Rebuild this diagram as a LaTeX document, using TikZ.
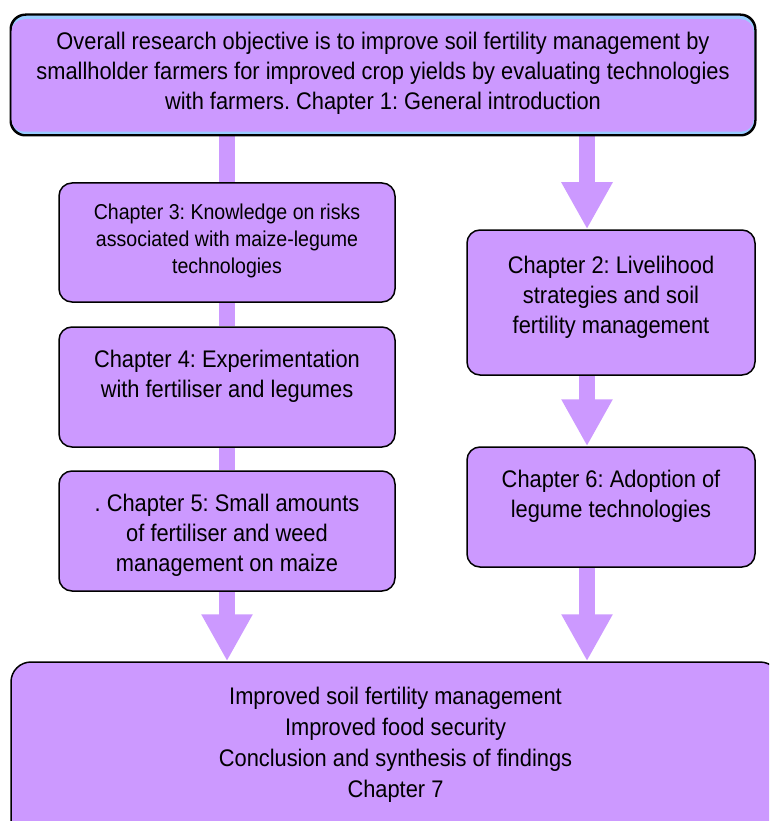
\documentclass[tikz,border=0pt]{standalone}
\usepackage{fontspec}
\setmainfont[FakeStretch=0.91]{Liberation Sans}
\usetikzlibrary{arrows.meta,backgrounds,calc}
\definecolor{boxfill}{HTML}{CC99FF}
\definecolor{edgeblue}{HTML}{99CCFF}
\tikzset{
  box/.style={draw=black, line width=1.5pt, fill=boxfill, rounded corners=13pt,
    inner sep=0pt, anchor=center},
  label/.style={align=center, inner sep=0pt, text=black},
  bar/.style={line width=16pt, draw=boxfill, line cap=butt},
  fatarrow/.style={bar, -{Triangle[length=47pt,width=48pt]}},
}
\newcommand{\mainsize}{\frenchspacing\fontsize{24}{30}\selectfont}
\newcommand{\smallsize}{\frenchspacing\fontsize{21.5}{27}\selectfont}
\newcommand{\lastsize}{\frenchspacing\fontsize{24}{31}\selectfont}
\begin{document}
\begin{tikzpicture}[x=1pt,y=-1pt]
\useasboundingbox (0,0) rectangle (769,821);
\clip (0,0) rectangle (769,821);

% boxes
\node[box, fill=edgeblue, minimum width=744pt, minimum height=120pt, rounded corners=15pt] (top) at (383,75) {};
\fill[boxfill, rounded corners=13pt] ($(top.north west)+(1,5)$) rectangle ($(top.south east)+(-2,-4)$);
\draw[black, line width=1.5pt, rounded corners=15pt] (top.north west) rectangle (top.south east);
\node[label, font=\mainsize] (ttop) at (383,73) {Overall research objective is to improve soil fertility management by\\smallholder farmers for improved crop yields by evaluating technologies\\with farmers. Chapter 1: General introduction};

\node[box, minimum width=336pt, minimum height=119pt] (b3) at (227,242.5) {};
\node[label, font=\smallsize] (t3) at (227,241) {Chapter 3: Knowledge on risks\\associated with maize-legume\\technologies};

\node[box, minimum width=336pt, minimum height=120pt] (b4) at (227,387) {};
\node[label, font=\mainsize] (t4) at (227,376) {Chapter 4: Experimentation\\with fertiliser and legumes};

\node[box, minimum width=336pt, minimum height=120pt] (b5) at (227,531) {};
\node[label, font=\mainsize] (t5) at (227,535) {. Chapter 5: Small amounts\\of fertiliser and weed\\management on maize};

\node[box, minimum width=288pt, minimum height=145pt] (b2) at (611,302.5) {};
\node[label, font=\mainsize] (t2) at (611,297) {Chapter 2: Livelihood\\strategies and soil\\fertility management};

\node[box, minimum width=288pt, minimum height=120pt] (b6) at (611,507) {};
\node[label, font=\mainsize] (t6) at (611,496) {Chapter 6: Adoption of\\legume technologies};

\node[box, minimum width=769pt, minimum height=190pt, rounded corners=20pt] (b7) at (395.5,757) {};
\node[label, font=\lastsize] (t7) at (395.5,744.5) {Improved soil fertility management\\Improved food security\\Conclusion and synthesis of findings\\Chapter 7};

% connectors behind the boxes
\coordinate (rx) at (587,0);
\begin{scope}[on background layer]
  \draw[bar] (top.south -| b3) -- (b3.north);
  \draw[bar] (b3.south) -- (b4.north);
  \draw[bar] (b4.south) -- (b5.north);
  \draw[fatarrow] (b5.south) -- (b5.south |- b7.north);
  \draw[fatarrow] (top.south -| rx) -- (b2.north -| rx);
  \draw[fatarrow] (b2.south -| rx) -- (b6.north -| rx);
  \draw[fatarrow] (b6.south -| rx) -- (b7.north -| rx);
\end{scope}
\end{tikzpicture}
\end{document}
